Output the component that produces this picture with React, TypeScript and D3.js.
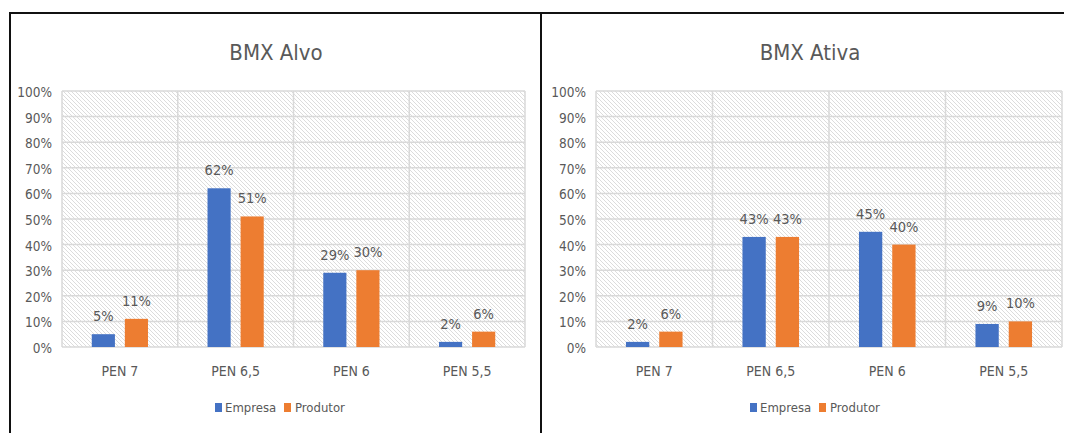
import React from "react";
import * as d3 from "d3";

const categories = ["PEN 7", "PEN 6,5", "PEN 6", "PEN 5,5"];
const seriesNames = ["Empresa", "Produtor"];
const seriesColors = ["#4472C4", "#ED7D31"];
const alvoEmpresa = [5, 62, 29, 2];
const alvoProdutor = [11, 51, 30, 6];
const ativaEmpresa = [2, 43, 45, 9];
const ativaProdutor = [6, 43, 40, 10];
const yTicks = [0, 10, 20, 30, 40, 50, 60, 70, 80, 90, 100];

const FONT = "'DejaVu Sans Condensed', 'Open Sans', sans-serif";
const TEXT = "#595959";
const GRID = "#d9d9d9";

type PanelProps = {
  title: string;
  series: number[][];
  plotLeft: number;
  plotRight: number;
  titleX: number;
  legendX: number;
  pid: string;
};

function Panel({ title, series, plotLeft, plotRight, titleX, legendX, pid }: PanelProps) {
  const top = 91;
  const bottom = 347;
  const y = d3.scaleLinear().domain([0, 100]).range([bottom, top]);
  const x = d3.scaleBand().domain(categories).range([plotLeft, plotRight]).paddingInner(0).paddingOuter(0);
  const inner = d3.scaleBand().domain(seriesNames).range([0, x.bandwidth()]).paddingInner(0.3).paddingOuter(0.9);
  return (
    <g>
      <text x={titleX} y={60} textAnchor="middle" fontSize={22} fill={TEXT} fontFamily={FONT}>{title}</text>
      <rect x={plotLeft} y={top} width={plotRight - plotLeft} height={bottom - top} fill={`url(#hatch-${pid})`} />
      {yTicks.map((t) => (
        <g key={t}>
          <line x1={plotLeft} x2={plotRight} y1={y(t)} y2={y(t)} stroke={GRID} strokeWidth={1.5} />
          <text x={plotLeft - 10} y={y(t) + 6} textAnchor="end" fontSize={13.5} fill={TEXT} fontFamily={FONT}>{t}%</text>
        </g>
      ))}
      {categories.map((c) => (
        <line key={c} x1={x(c)!} x2={x(c)!} y1={top} y2={bottom} stroke={GRID} strokeWidth={1.5} />
      ))}
      <line x1={plotRight} x2={plotRight} y1={top} y2={bottom} stroke={GRID} strokeWidth={1.5} />
      {categories.map((c, i) => (
        <g key={c}>
          {seriesNames.map((s, j) => {
            const v = series[j][i];
            const bx = x(c)! + inner(s)!;
            return (
              <g key={s}>
                <rect x={bx} y={y(v)} width={inner.bandwidth()} height={bottom - y(v)} fill={seriesColors[j]} />
                <text x={bx + inner.bandwidth() / 2} y={y(v) - 13} textAnchor="middle" fontSize={14.5} fill={TEXT} fontFamily={FONT}>{v}%</text>
              </g>
            );
          })}
          <text x={x(c)! + x.bandwidth() / 2} y={376} textAnchor="middle" fontSize={14} fill={TEXT} fontFamily={FONT}>{c}</text>
        </g>
      ))}
      <g transform={`translate(${legendX},0)`}>
        <rect x={0} y={403} width={7} height={9} fill={seriesColors[0]} />
        <text x={10} y={412} fontSize={13} fill={TEXT} fontFamily={FONT}>{seriesNames[0]}</text>
        <rect x={69} y={403} width={7} height={9} fill={seriesColors[1]} />
        <text x={80} y={412} fontSize={13} fill={TEXT} fontFamily={FONT}>{seriesNames[1]}</text>
      </g>
    </g>
  );
}

export default function App() {
  return (
    <svg width={1067} height={433} style={{ position: "absolute", left: 0, top: 0, background: "#fff" }}>
      <defs>
        {["a", "b"].map((p) => (
          <pattern key={p} id={`hatch-${p}`} patternUnits="userSpaceOnUse" width={4} height={4}>
            <rect width={4} height={4} fill="#fff" />
            <path d="M-1,-1 L5,5 M-1,3 L1,5 M3,-1 L5,1" stroke="#dcdcdc" strokeWidth={1} />
          </pattern>
        ))}
      </defs>
      <rect x={0} y={0} width={1067} height={433} fill="#fff" />
      <Panel title="BMX Alvo" series={[alvoEmpresa, alvoProdutor]} plotLeft={62} plotRight={525} titleX={276} legendX={215} pid="a" />
      <Panel title="BMX Ativa" series={[ativaEmpresa, ativaProdutor]} plotLeft={596} plotRight={1062} titleX={810} legendX={750} pid="b" />
      <line x1={9} x2={1064} y1={13} y2={13} stroke="#111" strokeWidth={2} />
      <line x1={10} x2={10} y1={12} y2={433} stroke="#111" strokeWidth={2} />
      <line x1={541} x2={541} y1={12} y2={433} stroke="#111" strokeWidth={2} />
    </svg>
  );
}
